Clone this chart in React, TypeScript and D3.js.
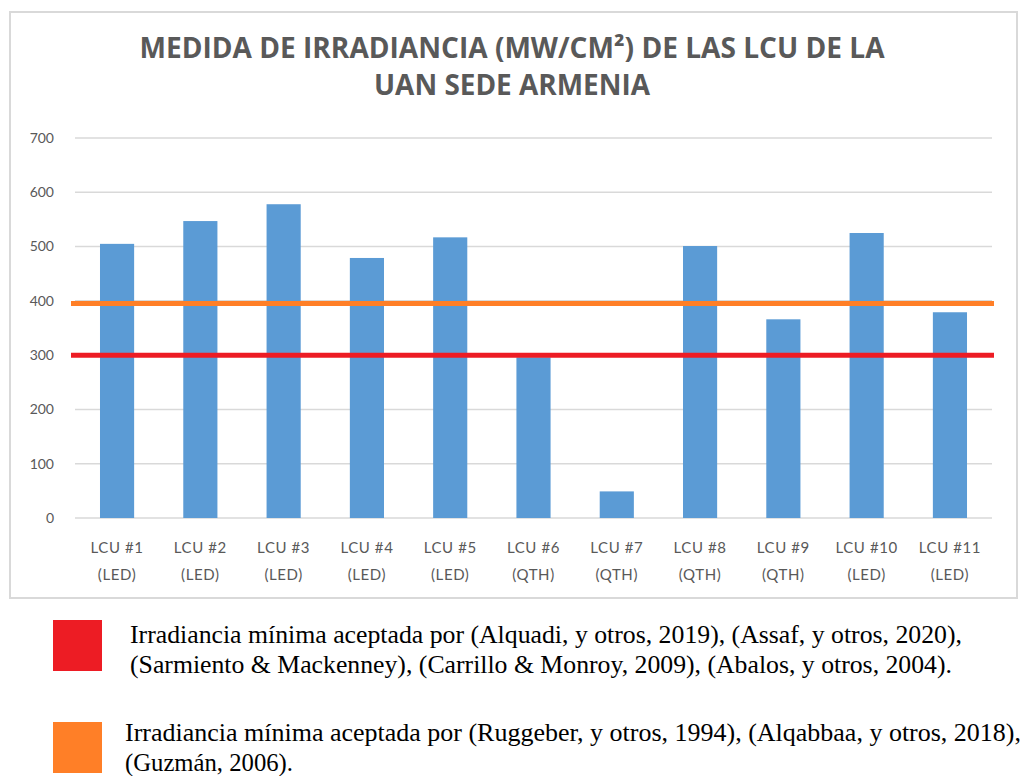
import React, { useEffect, useRef } from 'react'
import * as d3 from 'd3'

// data
const categories = ['LCU#1', 'LCU#2', 'LCU#3', 'LCU#4', 'LCU#5', 'LCU#6', 'LCU#7', 'LCU#8', 'LCU#9', 'LCU#10', 'LCU#11']
const lampTypes = ['(LED)', '(LED)', '(LED)', '(LED)', '(LED)', '(QTH)', '(QTH)', '(QTH)', '(QTH)', '(LED)', '(LED)']
const irradiance = [505, 547, 578, 479, 517, 296, 49, 501, 366, 525, 379]
const yTicks = [0, 100, 200, 300, 400, 500, 600, 700]
const thresholds = [
  { value: 300, color: '#ED1C24' },
  { value: 395, color: '#FF7F27' },
]
const titleLines = ['MEDIDA DE IRRADIANCIA (MW/CM²) DE LAS LCU DE LA', 'UAN SEDE ARMENIA']
const legendItems = [
  {
    color: '#ED1C24',
    lines: [
      'Irradiancia mínima aceptada por (Alquadi, y otros, 2019), (Assaf, y otros, 2020),',
      '(Sarmiento & Mackenney), (Carrillo & Monroy, 2009), (Abalos, y otros, 2004).',
    ],
    widths: [832, 822],
  },
  {
    color: '#FF7F27',
    lines: [
      'Irradiancia mínima aceptada por (Ruggeber, y otros, 1994), (Alqabbaa, y otros, 2018),',
      '(Guzmán, 2006).',
    ],
    widths: [896, 168],
  },
]

const App: React.FC = () => {
  const ref = useRef<SVGSVGElement | null>(null)

  useEffect(() => {
    const svg = d3.select(ref.current)
    svg.selectAll('*').remove()

    const grey = '#595959'
    const plot = { left: 75, right: 992, top: 138, bottom: 518 }

    // chart frame
    svg
      .append('rect')
      .attr('x', 10)
      .attr('y', 12)
      .attr('width', 1007)
      .attr('height', 586)
      .attr('fill', '#fff')
      .attr('stroke', '#d9d9d9')
      .attr('stroke-width', 2)

    // title
    svg
      .selectAll('.title')
      .data(titleLines)
      .enter()
      .append('text')
      .attr('x', 512)
      .attr('y', (d, i) => 58 + i * 37)
      .attr('text-anchor', 'middle')
      .attr('font-family', 'Open Sans, sans-serif')
      .attr('font-weight', 700)
      .attr('font-size', 28)
      .attr('fill', grey)
      .attr('textLength', (d, i) => (i === 0 ? 745 : 276))
      .attr('lengthAdjust', 'spacingAndGlyphs')
      .text((d) => d)

    const x = d3.scaleBand().domain(categories).range([plot.left, plot.right]).paddingInner(0.59).paddingOuter(0.3)
    const y = d3.scaleLinear().domain([0, 700]).range([plot.bottom, plot.top])

    // gridlines
    svg
      .append('g')
      .selectAll('line')
      .data(yTicks)
      .enter()
      .append('line')
      .attr('x1', plot.left)
      .attr('x2', plot.right)
      .attr('y1', (d) => y(d))
      .attr('y2', (d) => y(d))
      .attr('stroke', '#d9d9d9')
      .attr('stroke-width', 1.5)

    // y tick labels
    svg
      .append('g')
      .selectAll('text')
      .data(yTicks)
      .enter()
      .append('text')
      .attr('x', 54)
      .attr('y', (d) => y(d))
      .attr('dy', '0.35em')
      .attr('text-anchor', 'end')
      .attr('font-family', 'Lato, sans-serif')
      .attr('font-size', 14)
      .attr('fill', grey)
      .text((d) => d)

    // bars
    svg
      .append('g')
      .selectAll('rect')
      .data(irradiance)
      .enter()
      .append('rect')
      .attr('x', (d, i) => x(categories[i]) as number)
      .attr('width', x.bandwidth())
      .attr('y', (d) => y(d))
      .attr('height', (d) => y(0) - y(d))
      .attr('fill', '#5B9BD5')

    // threshold lines
    svg
      .append('g')
      .selectAll('line')
      .data(thresholds)
      .enter()
      .append('line')
      .attr('x1', plot.left - 4)
      .attr('x2', plot.right + 2)
      .attr('y1', (d) => y(d.value))
      .attr('y2', (d) => y(d.value))
      .attr('stroke', (d) => d.color)
      .attr('stroke-width', 5)

    // x labels
    const xl = svg
      .append('g')
      .selectAll('text')
      .data(categories)
      .enter()
      .append('text')
      .attr('text-anchor', 'middle')
      .attr('font-family', 'Lato, sans-serif')
      .attr('font-size', 15)
      .attr('letter-spacing', 0.6)
      .attr('fill', grey)
    xl.append('tspan')
      .attr('x', (d) => (x(d) as number) + x.bandwidth() / 2)
      .attr('y', 553)
      .text((d) => d.replace('#', ' #'))
    xl.append('tspan')
      .attr('x', (d) => (x(d) as number) + x.bandwidth() / 2)
      .attr('y', 580)
      .text((d, i) => lampTypes[i])

    // legend outside the chart box
    legendItems.forEach((item, k) => {
      const top = 620 + k * 102
      svg
        .append('rect')
        .attr('x', 53)
        .attr('y', top)
        .attr('width', 49)
        .attr('height', 51)
        .attr('fill', item.color)
      item.lines.forEach((line, j) => {
        svg
          .append('text')
          .attr('x', k === 0 ? 130 : 125)
          .attr('y', (k === 0 ? 643 : 741) + j * 30)
          .attr('font-family', 'Liberation Serif, serif')
          .attr('font-size', 25)
          .attr('fill', '#000')
          .attr('textLength', item.widths[j])
          .attr('lengthAdjust', 'spacingAndGlyphs')
          .text(line)
      })
    })
  }, [])

  return (
    <svg
      ref={ref}
      width={1024}
      height={776}
      style={{ position: 'absolute', left: 0, top: 0, background: '#fff' }}
    ></svg>
  )
}

export default App
